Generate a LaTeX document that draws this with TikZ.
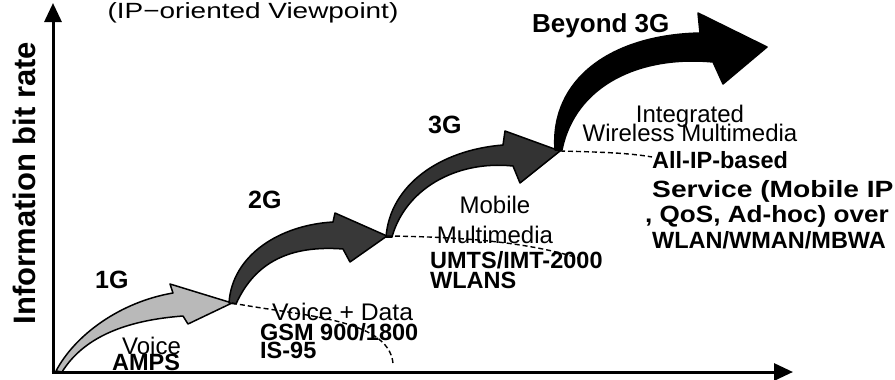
\documentclass[tikz,border=0pt]{standalone}
\usepackage{fontspec}
\setmainfont{Liberation Sans}
\usepackage{graphicx}
\usetikzlibrary{arrows.meta}
\newcommand{\sx}[2]{\scalebox{#1}[1]{#2}}
\begin{document}
\begin{tikzpicture}[x=1pt,y=-1pt,
  axisline/.style={line width=3pt,-{Triangle[length=19pt,width=17pt]}},
  genarrow/.style={draw=black,line width=1.5pt,line join=round},
  dashconn/.style={draw=black,line width=1.4pt,dash pattern=on 5pt off 3pt},
  reg/.style={font=\fontsize{24}{26}\selectfont,inner sep=0pt},
  bld/.style={font=\bfseries\fontsize{23.5}{26}\selectfont,inner sep=0pt},
  gen/.style={font=\bfseries\fontsize{25}{27}\selectfont,inner sep=0pt}]
\useasboundingbox (0,0) rectangle (895,380);
% axes
\coordinate (o) at (53,372);
\coordinate (ytop) at (53,3);
\coordinate (xend) at (793,372);
\draw[axisline] (o) -- (ytop);
\draw[axisline] ([xshift=-1.5pt]o) -- (xend);
% tips
\coordinate (t1) at (232,303);
\coordinate (t2) at (387,236);
\coordinate (t3) at (560,151);
\coordinate (t4) at (767,47);
% 1G arrow
\fill[genarrow,fill=gray!55] (56,371) .. controls (75,335) and (120,302) .. (173,293)
  -- (170,284) -- (t1) -- (188,324) -- (183,316)
  .. controls (130,320) and (85,335) .. (62,372) -- cycle;
% 2G arrow
\fill[genarrow,fill=black!78] (229,303) .. controls (232,255) and (280,225) .. (333,222)
  -- (335,213) -- (t2) -- (350,262) -- (343,249)
  .. controls (290,245) and (255,262) .. (236,304) -- cycle;
% 3G arrow
\fill[genarrow,fill=black!80] (386,237) .. controls (390,185) and (440,150) .. (503,145)
  -- (505,131) -- (t3) -- (520,183) -- (513,166)
  .. controls (455,160) and (405,190) .. (392,237) -- cycle;
% Beyond 3G arrow
\fill[genarrow,fill=black] (555,150) .. controls (550,80) and (610,35) .. (700,33)
  -- (698,13) -- (t4) -- (723,84) -- (713,62)
  .. controls (640,55) and (575,85) .. (562,150) -- cycle;
% dashed connectors
\coordinate (d1) at (393,363);
\coordinate (d2) at (578,258);
\coordinate (d3) at (652,157);
\draw[dashconn] (t1) .. controls (300,316) and (388,318) .. (d1);
\draw[dashconn] (t2) .. controls (470,237) and (530,243) .. (d2);
\draw[dashconn] (t3) .. controls (600,152) and (630,153) .. (d3);
% texts
\node[reg,anchor=base,font=\fontsize{22}{24}\selectfont] (title) at (253,18) {\sx{1.27}{(IP−oriented Viewpoint)}};
\node[font=\bfseries\fontsize{31}{33}\selectfont,inner sep=0pt,rotate=90,anchor=base] (ylab) at (35,183) {Information bit rate};
\node[gen,anchor=base west] (g1) at (95,288) {1G};
\node[gen,anchor=base west] (g2) at (248,208) {2G};
\node[gen,anchor=base west] (g3) at (428,133) {3G};
\node[gen,anchor=base west,font=\bfseries\fontsize{26}{28}\selectfont] (g4) at (532,32) {Beyond 3G};
\node[reg,anchor=base west] (v1) at (122,354) {Voice};
\node[bld,anchor=base west] (a1) at (112,370) {AMPS};
\node[reg,anchor=base west] (v2) at (272,320) {\sx{1.03}{Voice + Data}};
\node[bld,anchor=base west] (a2) at (260,340) {GSM 900/1800};
\node[bld,anchor=base west] (a2b) at (260,358) {IS-95};
\node[reg,anchor=base] (v3) at (495,213) {Mobile};
\node[reg,anchor=base] (v3b) at (495,243) {Multimedia};
\node[bld,anchor=base west] (a3) at (430,268) {UMTS/IMT-2000};
\node[bld,anchor=base west] (a3b) at (430,288) {WLANS};
\node[reg,anchor=base] (v4) at (690,122) {Integrated};
\node[reg,anchor=base] (v4b) at (690,141) {Wireless Multimedia};
\node[bld,anchor=base west] (a4) at (652,168) {All-IP-based};
\node[bld,anchor=base west] (a4b) at (652,197) {\sx{1.2}{Service (Mobile IP}};
\node[bld,anchor=base west] (a4c) at (645,222) {\sx{1.11}{, QoS, Ad-hoc) over}};
\node[bld,anchor=base west] (a4d) at (652,248) {WLAN/WMAN/MBWA};
\end{tikzpicture}
\end{document}
